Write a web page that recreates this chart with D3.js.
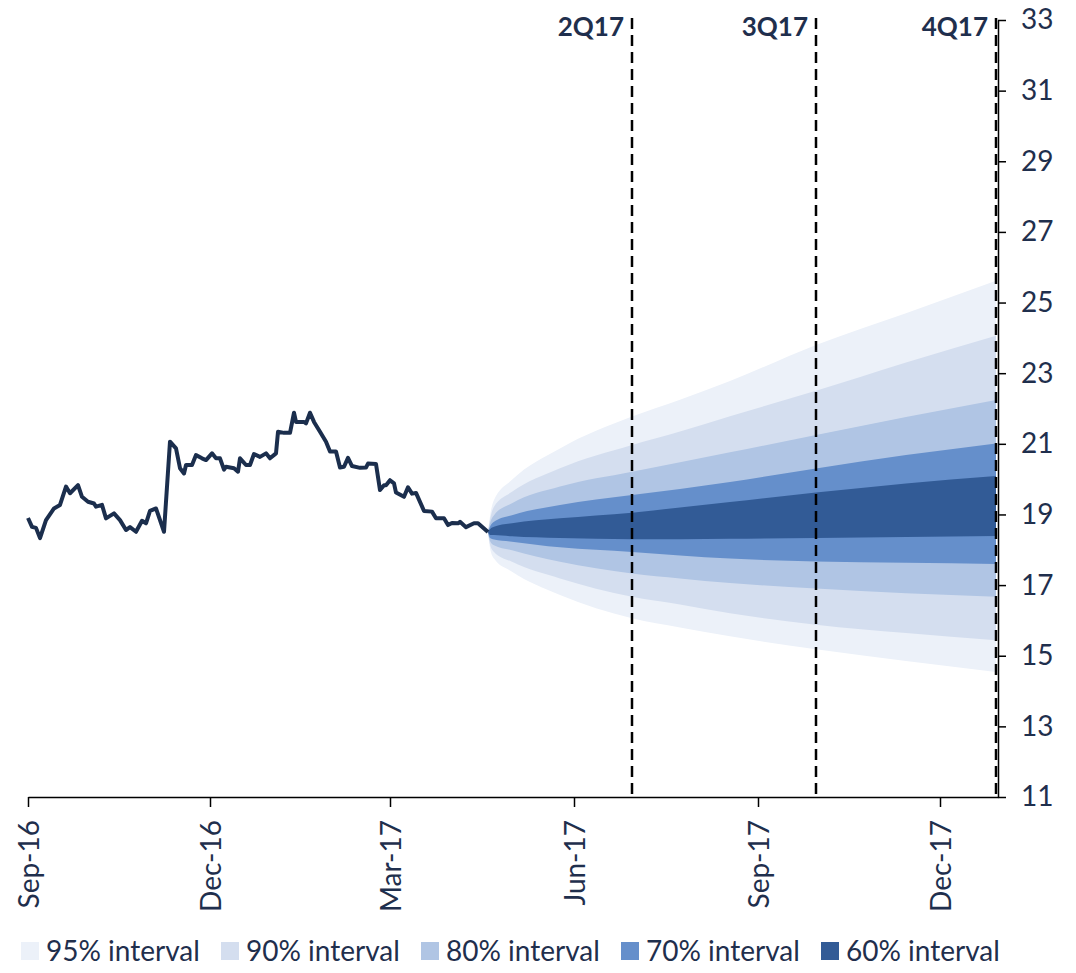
<!DOCTYPE html>
<html>
<head>
<meta charset="utf-8">
<script src="https://cdn.jsdelivr.net/npm/d3@7"></script>
<style>
  body { margin: 0; background: #fff; }
  svg text { font-family: Lato, 'Open Sans', sans-serif; fill: #1f2f4d; }
</style>
</head>
<body>
<svg id="chart" width="1076" height="973"></svg>
<script>
// Historical series
var hist_dates = ['2016-09-01','2016-09-03','2016-09-05','2016-09-07','2016-09-10','2016-09-14','2016-09-17','2016-09-20','2016-09-22','2016-09-26','2016-09-28',
  '2016-10-01','2016-10-04','2016-10-05','2016-10-08','2016-10-10','2016-10-14','2016-10-17','2016-10-20','2016-10-22','2016-10-25','2016-10-28','2016-10-30',
  '2016-11-01','2016-11-04','2016-11-08','2016-11-11','2016-11-14','2016-11-16','2016-11-18','2016-11-19','2016-11-22','2016-11-24','2016-11-27','2016-11-29',
  '2016-12-02','2016-12-04','2016-12-06','2016-12-08','2016-12-09','2016-12-13','2016-12-15','2016-12-16','2016-12-19','2016-12-21','2016-12-23','2016-12-26','2016-12-29','2016-12-31',
  '2017-01-03','2017-01-04','2017-01-07','2017-01-10','2017-01-12','2017-01-13','2017-01-17','2017-01-18','2017-01-20','2017-01-22','2017-01-25','2017-01-28','2017-01-30',
  '2017-02-02','2017-02-04','2017-02-06','2017-02-08','2017-02-10','2017-02-14','2017-02-17','2017-02-18','2017-02-22','2017-02-24','2017-02-26','2017-02-27',
  '2017-03-01','2017-03-03','2017-03-04','2017-03-08','2017-03-10','2017-03-12','2017-03-14','2017-03-18','2017-03-22','2017-03-24','2017-03-28','2017-03-30',
  '2017-04-01','2017-04-04','2017-04-05','2017-04-08','2017-04-12','2017-04-14','2017-04-19']
var hist_values = [18.90,18.65,18.62,18.33,18.84,19.17,19.27,19.79,19.60,19.83,19.50,
  19.36,19.31,19.22,19.27,18.89,19.03,18.84,18.56,18.64,18.51,18.82,18.75,
  19.10,19.17,18.51,21.06,20.87,20.31,20.16,20.40,20.40,20.68,20.59,20.54,
  20.73,20.59,20.59,20.27,20.35,20.31,20.21,20.59,20.40,20.40,20.71,20.63,20.73,20.59,
  20.73,21.34,21.31,21.31,21.88,21.62,21.62,21.58,21.88,21.62,21.34,21.06,20.78,
  20.78,20.33,20.35,20.60,20.37,20.32,20.33,20.44,20.43,19.69,19.83,19.83,
  19.97,19.88,19.62,19.50,19.77,19.59,19.61,19.10,19.08,18.89,18.89,18.70,
  18.76,18.75,18.79,18.64,18.75,18.75,18.50]

// Forecast fan
var fan_dates = ['2017-04-19','2017-04-20','2017-04-22','2017-05-01','2017-05-25','2017-06-30','2017-07-24','2017-08-18','2017-09-30','2017-11-14','2017-12-29']
var band_names = ['95% interval', '90% interval', '80% interval', '70% interval', '60% interval']
var band_colors = ['#ecf1f9', '#d4deef', '#b0c5e4', '#658fcb', '#325b96']
var band95_lo = [18.50,18.05,17.75,17.38,16.72,16.06,15.80,15.55,15.18,14.85,14.54]
var band95_hi = [18.50,18.95,19.41,19.98,20.87,21.77,22.25,22.78,23.80,24.70,25.62]
var band90_lo = [18.50,18.15,17.94,17.66,17.19,16.67,16.45,16.20,15.88,15.64,15.44]
var band90_hi = [18.50,18.85,19.22,19.64,20.31,20.97,21.35,21.78,22.50,23.30,24.06]
var band80_lo = [18.50,18.25,18.13,17.99,17.66,17.33,17.19,17.06,16.90,16.77,16.67]
var band80_hi = [18.50,18.75,18.98,19.32,19.79,20.21,20.48,20.76,21.25,21.76,22.24]
var band70_lo = [18.50,18.33,18.29,18.23,18.07,17.94,17.84,17.75,17.67,17.63,17.60]
var band70_hi = [18.50,18.65,18.79,18.98,19.27,19.55,19.72,19.92,20.30,20.68,21.01]
var band60_lo = [18.50,18.42,18.42,18.38,18.33,18.30,18.30,18.31,18.33,18.36,18.39]
var band60_hi = [18.50,18.58,18.65,18.75,18.89,19.05,19.20,19.35,19.62,19.88,20.09]

// Axes
var x_ticks = ['2016-09-01','2016-12-01','2017-03-01','2017-06-01','2017-09-01','2017-12-01']
var y_ticks = [11,13,15,17,19,21,23,25,27,29,31,33]
var quarter_dates = ['2017-06-30','2017-09-30','2017-12-29']
var quarter_labels = ['2Q17','3Q17','4Q17']

var parse = d3.timeParse('%Y-%m-%d')
var svg = d3.select('#chart')

var x = d3.scaleTime()
  .domain([parse('2016-09-01'), parse('2017-12-30')])
  .range([28, 998])
var y = d3.scaleLinear()
  .domain([11, 33])
  .range([797, 20])

// Bands, widest first
var bands = [
  [band95_lo, band95_hi],
  [band90_lo, band90_hi],
  [band80_lo, band80_hi],
  [band70_lo, band70_hi],
  [band60_lo, band60_hi]
]
var area = d3.area()
  .x(d => x(d.date))
  .y0(d => y(d.lo))
  .y1(d => y(d.hi))
  .curve(d3.curveMonotoneX)

bands.forEach((b, i) => {
  var pts = fan_dates.map((d, j) => ({ date: parse(d), lo: b[0][j], hi: b[1][j] }))
  svg.append('path')
    .attr('d', area(pts))
    .attr('fill', band_colors[i])
})

// Quarter markers
quarter_dates.forEach((d, i) => {
  var qx = x(parse(d))
  svg.append('line')
    .attr('x1', qx).attr('x2', qx)
    .attr('y1', y(33) - 2).attr('y2', y(11))
    .attr('stroke', '#000')
    .attr('stroke-width', 2.5)
    .attr('stroke-dasharray', '11,6')
  svg.append('text')
    .text(quarter_labels[i])
    .attr('x', qx - 8)
    .attr('y', 36)
    .attr('text-anchor', 'end')
    .style('font-weight', 'bold')
    .style('font-size', '26px')
})

// Historical line
var line = d3.line()
  .x((d, i) => x(parse(hist_dates[i])))
  .y(d => y(d))
svg.append('path')
  .attr('d', line(hist_values))
  .attr('fill', 'none')
  .attr('stroke', '#1b2e4d')
  .attr('stroke-width', 4)
  .attr('stroke-linejoin', 'round')

// x axis
var x_axis = svg.append('g')
  .attr('transform', 'translate(0,' + y(11) + ')')
  .call(d3.axisBottom(x)
    .tickValues(x_ticks.map(parse))
    .tickFormat(d3.timeFormat('%b-%y'))
    .tickSize(10)
    .tickSizeOuter(0))
x_axis.select('.domain').attr('stroke', '#000').attr('stroke-width', 1.5)
x_axis.selectAll('.tick line').attr('stroke', '#000').attr('stroke-width', 1.5)
x_axis.selectAll('.tick text')
  .attr('transform', 'rotate(-90)')
  .attr('text-anchor', 'end')
  .attr('x', -23)
  .attr('y', 0)
  .attr('dy', '0.36em')
  .style('font-size', '28px')
  .style('font-family', 'Lato, sans-serif')
  .attr('fill', '#1f2f4d')

// y axis on the right
var y_axis = svg.append('g')
  .attr('transform', 'translate(' + x.range()[1] + ',0)')
  .call(d3.axisRight(y)
    .tickValues(y_ticks)
    .tickSize(8)
    .tickPadding(15)
    .tickSizeOuter(0))
y_axis.select('.domain').attr('stroke', '#000').attr('stroke-width', 1.5)
y_axis.selectAll('.tick line').attr('stroke', '#000').attr('stroke-width', 1.5)
y_axis.selectAll('.tick text')
  .style('font-size', '28px')
  .style('font-family', 'Lato, sans-serif')
  .attr('fill', '#1f2f4d')

// Legend
band_names.forEach((name, i) => {
  var lx = 21 + i * 200
  svg.append('rect')
    .attr('x', lx).attr('y', 942)
    .attr('width', 18).attr('height', 18)
    .attr('fill', band_colors[i])
  svg.append('text')
    .text(name)
    .attr('x', lx + 25)
    .attr('y', 961)
    .style('font-size', '28px')
})
</script>
</body>
</html>
